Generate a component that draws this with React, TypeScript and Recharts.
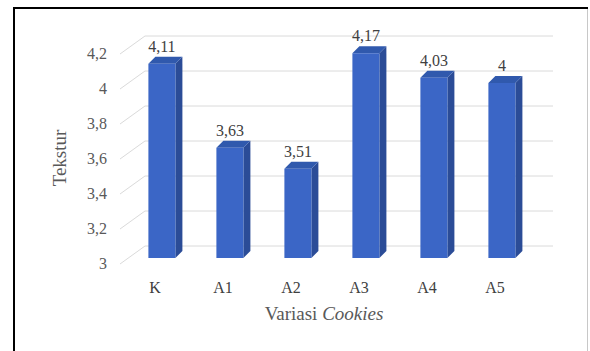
import { BarChart, Bar, XAxis, YAxis, CartesianGrid, LabelList } from "recharts";

const variasi = ["K", "A1", "A2", "A3", "A4", "A5"];
const tekstur = [4.11, 3.63, 3.51, 4.17, 4.03, 4];
const yTicks = [3, 3.2, 3.4, 3.6, 3.8, 4, 4.2];

const data = variasi.map((v, i) => ({ variasi: v, tekstur: tekstur[i] }));

const fmt = (v: number) => String(v).replace(".", ",");

const SERIF = "Liberation Serif, serif";
const DEPTH = 7; // bar depth in px
const WALL_DX = 25; // offset of back wall
const WALL_DY = 18;

// column drawn as front face + side + top
function Bar3D(props: any) {
  const { x, y, width, height } = props;
  if (height == null || height <= 0) return null;
  const d = DEPTH;
  return (
    <g>
      <polygon
        points={`${x + width},${y} ${x + width + d},${y - d} ${x + width + d},${y + height - d} ${x + width},${y + height}`}
        fill="#2b4c97"
      />
      <polygon
        points={`${x},${y} ${x + d},${y - d} ${x + width + d},${y - d} ${x + width},${y}`}
        fill="#3059ad"
      />
      <rect x={x} y={y} width={width} height={height} fill="#3b66c6" />
    </g>
  );
}

// gridline on the back wall plus the short diagonal on the side wall
function WallLine(props: any) {
  const { x1, y1, x2, key } = props;
  const yb = y1 - 12;
  return (
    <g key={key}>
      <line x1={x1 - 8} y1={yb + WALL_DY} x2={x1 - 8 + WALL_DX} y2={yb} stroke="#dadada" strokeWidth={1} />
      <line x1={x1 - 8 + WALL_DX} y1={yb} x2={x2 + 17} y2={yb} stroke="#dadada" strokeWidth={1} />
    </g>
  );
}

function YTick(props: any) {
  const { y, payload } = props;
  return (
    <text x={107} y={y + 11} textAnchor="end" fontFamily={SERIF} fontSize={16} fill="#595959">
      {fmt(payload.value)}
    </text>
  );
}

function XTick(props: any) {
  const { x, y, payload } = props;
  return (
    <text x={x - 7} y={y + 35} textAnchor="middle" fontFamily={SERIF} fontSize={16} fill="#404040">
      {payload.value}
    </text>
  );
}

function ValueLabel(props: any) {
  const { x, y, width, value } = props;
  return (
    <text x={x + width / 2} y={y - 12} textAnchor="middle" fontFamily={SERIF} fontSize={16} fill="#404040">
      {fmt(value)}
    </text>
  );
}

export default function App() {
  return (
    <div style={{ position: "absolute", left: 0, top: 0, width: 590, height: 351, background: "#ffffff" }}>
      <div style={{ position: "absolute", left: 13, top: 7, width: 575, height: 2, background: "#000" }} />
      <div style={{ position: "absolute", left: 13, top: 7, width: 2, height: 344, background: "#000" }} />
      <div style={{ position: "absolute", left: 587, top: 9, width: 1, height: 342, background: "#c8c8c8" }} />
      <BarChart
        width={590}
        height={351}
        data={data}
        margin={{ top: 48, right: 54, left: 68, bottom: 63 }}
        barCategoryGap="30%"
        style={{ position: "absolute", left: 0, top: 0, fontFamily: SERIF }}
      >
        <CartesianGrid vertical={false} horizontal={(p: any) => <WallLine {...p} />} />
        <XAxis
          dataKey="variasi"
          height={30}
          axisLine={false}
          tickLine={false}
          tickSize={0}
          tickMargin={0}
          tick={<XTick />}
        />
        <YAxis
          width={60}
          domain={[3, 4.2]}
          ticks={yTicks}
          axisLine={false}
          tickLine={false}
          tick={<YTick />}
        />
        <Bar dataKey="tekstur" shape={<Bar3D />} isAnimationActive={false}>
          <LabelList dataKey="tekstur" content={<ValueLabel />} />
        </Bar>
      </BarChart>
      <div
        style={{
          position: "absolute",
          left: 0,
          width: 648,
          top: 303,
          textAlign: "center",
          fontFamily: SERIF,
          fontSize: 19,
          color: "#595959",
        }}
      >
        Variasi <i>Cookies</i>
      </div>
      <div
        style={{
          position: "absolute",
          left: 60,
          top: 158,
          transform: "translate(-50%, -50%) rotate(-90deg)",
          fontFamily: SERIF,
          fontSize: 19,
          color: "#595959",
          whiteSpace: "nowrap",
        }}
      >
        Tekstur
      </div>
    </div>
  );
}
